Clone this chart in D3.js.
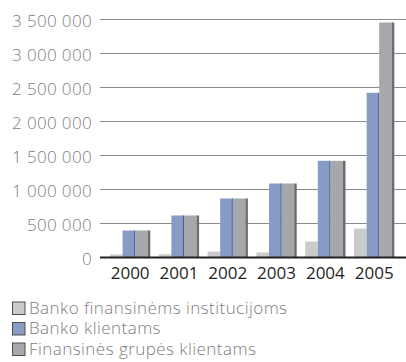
<!DOCTYPE html>
<html>
<head>
<meta charset="utf-8">
<script src="https://cdn.jsdelivr.net/npm/d3@7"></script>
<style>
  html, body { margin: 0; padding: 0; background: #fff; }
  svg { display: block; font-family: "Open Sans", sans-serif; }
</style>
</head>
<body>
<svg id="chart" width="406" height="362"></svg>
<script>
// Years on the horizontal axis
const years = ["2000", "2001", "2002", "2003", "2004", "2005"];
// Series names (legend order)
const seriesNames = ["Banko finansinėms institucijoms", "Banko klientams", "Finansinės grupės klientams"];
// Series values
const institucijoms = [44000, 48000, 88000, 74000, 235000, 426000];
const klientams = [397000, 618000, 868000, 1088000, 1422000, 2422000];
const grupesKlientams = [397000, 618000, 868000, 1088000, 1422000, 3456000];
// Y axis ticks
const yTicks = [0, 500000, 1000000, 1500000, 2000000, 2500000, 3000000, 3500000];

const seriesValues = [institucijoms, klientams, grupesKlientams];
const fills = ["#cbcbcb", "#879bc5", "#a7a8ab"];

const svg = d3.select("#chart");

const y = d3.scaleLinear().domain([0, 3500000]).range([257.5, 19.5]);

const x0 = d3.scaleBand().domain(years)
  .range([105.1, 396.7]).paddingInner(0.2254).paddingOuter(0.1);
const x1 = d3.scaleBand().domain(d3.range(seriesNames.length))
  .range([0, x0.bandwidth()]).padding(0);

const fmt = v => d3.format(",")(v).replace(/,/g, " ");

// gridlines
svg.append("g").selectAll("line")
  .data(yTicks.filter(t => t > 0))
  .join("line")
  .attr("x1", 100).attr("x2", 406)
  .attr("y1", d => y(d)).attr("y2", d => y(d))
  .attr("stroke", "#8a8a8a").attr("stroke-width", 1.2);

// y tick labels
svg.append("g").selectAll("text")
  .data(yTicks)
  .join("text")
  .attr("x", 92).attr("y", d => y(d) + 7.3)
  .attr("text-anchor", "end")
  .attr("font-size", 17).attr("font-weight", 300)
  .attr("letter-spacing", 0.35)
  .attr("fill", "#7d7d7d")
  .text(fmt);

// bars
const groups = svg.append("g").selectAll("g")
  .data(years)
  .join("g")
  .attr("transform", d => `translate(${x0(d)},0)`);

groups.each(function(year, i) {
  const g = d3.select(this);
  seriesValues.forEach((vals, s) => {
    const v = vals[i];
    const bx = x1(s), bw = x1.bandwidth();
    g.append("rect")
      .attr("x", bx).attr("y", y(v))
      .attr("width", bw).attr("height", y(0) - y(v))
      .attr("fill", fills[s]);
    if (s === 1) {
      // dark edge on the right side of the blue bar
      g.append("rect")
        .attr("x", bx + bw - 1).attr("y", y(v))
        .attr("width", 1).attr("height", y(0) - y(v))
        .attr("fill", "#3f5fa3");
    }
    if (s === 2) {
      // shadow strip to the right of the gray bar
      g.append("rect")
        .attr("x", bx + bw).attr("y", y(v))
        .attr("width", 2.5).attr("height", y(0) - y(v))
        .attr("fill", "#6c6d70");
    }
  });
});

// baseline
svg.append("line")
  .attr("x1", 100).attr("x2", 406)
  .attr("y1", y(0)).attr("y2", y(0))
  .attr("stroke", "#231f20").attr("stroke-width", 2);

// x labels
svg.append("g").selectAll("text")
  .data(years)
  .join("text")
  .attr("x", d => x0(d) + (x0.bandwidth() + 2.5) / 2)
  .attr("y", 279)
  .attr("text-anchor", "middle")
  .attr("font-size", 17).attr("font-weight", 400)
  .attr("fill", "#231f20")
  .text(d => d);

// legend
const legend = svg.append("g").selectAll("g")
  .data(seriesNames)
  .join("g")
  .attr("transform", (d, i) => `translate(12,${301.5 + i * 20.5})`);

legend.append("rect")
  .attr("x", 0.5).attr("y", 0.5)
  .attr("width", 12.5).attr("height", 12.5)
  .attr("fill", (d, i) => fills[i])
  .attr("stroke", "#4d4d4d").attr("stroke-width", 1);

legend.append("text")
  .attr("x", 17).attr("y", 12)
  .attr("font-size", 17).attr("font-weight", 300)
  .attr("letter-spacing", 0.45)
  .attr("fill", "#7d7d7d")
  .text(d => d);
</script>
</body>
</html>
